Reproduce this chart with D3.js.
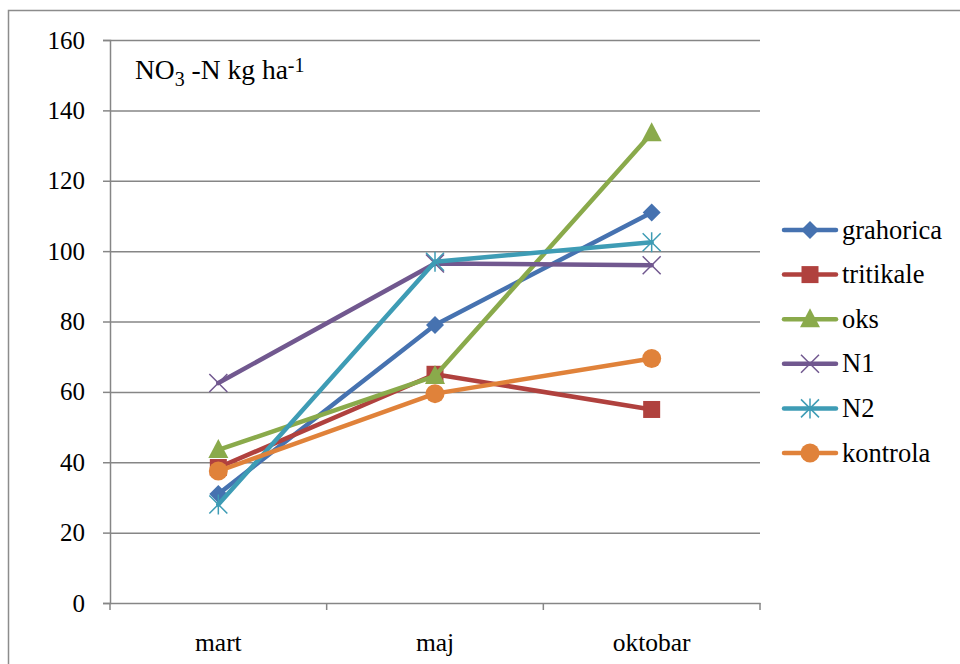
<!DOCTYPE html>
<html>
<head>
	<meta charset="utf-8">
	<title>NO3-N</title>
	<script src="https://cdn.jsdelivr.net/npm/d3@7"></script>
</head>
<body style="margin:0; background:#fff">
	<div id="chart"></div>
	<script>

		// data

		const months = ["mart", "maj", "oktobar"];
		const seriesNames = ["grahorica", "tritikale", "oks", "N1", "N2", "kontrola"];
		const grahorica = [31, 79, 111];
		const tritikale = [38.5, 65, 55];
		const oks = [43.5, 64.5, 133.5];
		const n1 = [62.5, 96.5, 96];
		const n2 = [28, 97, 102.5];
		const kontrola = [37.5, 59.5, 69.5];
		const yTicks = [0, 20, 40, 60, 80, 100, 120, 140, 160];

		const colors = ["#4672B0", "#B0413E", "#8AAA4B", "#71588F", "#3E9CB5", "#E0823A"];
		const markers = ["diamond", "square", "triangle", "x", "asterisk", "circle"];

		const series = seriesNames.map((name, i) => ({
			name,
			values: [grahorica, tritikale, oks, n1, n2, kontrola][i],
			color: colors[i],
			marker: markers[i]
		}));

		const width = 960;
		const height = 664;
		const marginLeft = 110, plotRight = 760, marginTop = 40, plotBottom = 603;
		const serif = "Liberation Serif";

		const svg = d3.select("#chart").append("svg")
			.attr("width", width)
			.attr("height", height);

		// outer frame
		svg.append("rect")
			.attr("x", 8.5).attr("y", 10.5)
			.attr("width", 960).attr("height", 700)
			.attr("fill", "none")
			.attr("stroke", "#8c8c8c")
			.attr("stroke-width", 1.5);

		const x = d3.scaleBand().domain(months).range([marginLeft, plotRight]);
		const y = d3.scaleLinear().domain([0, 160]).range([plotBottom, marginTop]);

		// y axis + grid
		svg.append("g")
			.attr("transform", `translate(${marginLeft},0)`)
			.call(d3.axisLeft(y).tickValues(yTicks).tickSize(7).tickPadding(18))
			.call(g => g.select(".domain").attr("stroke", "#868686").attr("stroke-width", 1.5))
			.call(g => g.selectAll(".tick line").attr("stroke", "#868686").attr("stroke-width", 1.5))
			.call(g => g.selectAll(".tick text")
				.style("font-family", serif)
				.style("font-size", "25px")
				.attr("fill", "#000"))
			.call(g => g.selectAll(".tick").filter(d => d > 0).append("line")
				.attr("x2", plotRight - marginLeft)
				.attr("stroke", "#868686").attr("stroke-width", 1.5));

		// x axis
		svg.append("g")
			.attr("transform", `translate(0,${plotBottom})`)
			.call(d3.axisBottom(x).tickSize(0).tickPadding(30))
			.call(g => g.select(".domain").attr("stroke", "#868686").attr("stroke-width", 1.5))
			.call(g => g.selectAll(".tick text")
				.style("font-family", serif)
				.style("font-size", "25.5px")
				.attr("fill", "#000"));

		// category boundary ticks
		const bounds = months.map(m => x(m)).concat([x(months[months.length - 1]) + x.bandwidth()]);
		svg.append("g").selectAll("line").data(bounds).join("line")
			.attr("x1", d => d).attr("x2", d => d)
			.attr("y1", plotBottom).attr("y2", plotBottom + 7)
			.attr("stroke", "#868686").attr("stroke-width", 1.5);

		const cx = m => x(m) + x.bandwidth() / 2;

		function drawMarker(g, type, color, px, py) {
			const s = 9;
			if (type === "diamond") {
				g.append("path").attr("d", `M${px},${py - s}L${px + s},${py}L${px},${py + s}L${px - s},${py}Z`).attr("fill", color);
			} else if (type === "square") {
				g.append("rect").attr("x", px - 8.5).attr("y", py - 8.5).attr("width", 17).attr("height", 17).attr("fill", color);
			} else if (type === "triangle") {
				g.append("path").attr("d", `M${px},${py - 11}L${px + 10},${py + 8}L${px - 10},${py + 8}Z`).attr("fill", color);
			} else if (type === "x") {
				g.append("path").attr("d", `M${px - 9},${py - 9}L${px + 9},${py + 9}M${px - 9},${py + 9}L${px + 9},${py - 9}`)
					.attr("stroke", color).attr("stroke-width", 1.5);
			} else if (type === "asterisk") {
				g.append("path").attr("d", `M${px - 9},${py - 9}L${px + 9},${py + 9}M${px - 9},${py + 9}L${px + 9},${py - 9}M${px},${py - 10}L${px},${py + 10}`)
					.attr("stroke", color).attr("stroke-width", 1.5);
			} else if (type === "circle") {
				g.append("circle").attr("cx", px).attr("cy", py).attr("r", 9.5).attr("fill", color);
			}
		}

		const line = d3.line()
			.x((d, i) => cx(months[i]))
			.y(d => y(d));

		series.forEach(s => {
			const g = svg.append("g");
			g.append("path")
				.attr("d", line(s.values))
				.attr("fill", "none")
				.attr("stroke", s.color)
				.attr("stroke-width", 4.5)
				.attr("stroke-linejoin", "round")
				.attr("stroke-linecap", "round");
			s.values.forEach((v, i) => drawMarker(g, s.marker, s.color, cx(months[i]), y(v)));
		});

		// title
		const title = svg.append("text")
			.attr("x", 135).attr("y", 79)
			.style("font-family", serif)
			.style("font-size", "27.5px");
		title.append("tspan").text("NO");
		title.append("tspan").text("3").style("font-size", "20px").attr("dy", 7);
		title.append("tspan").text(" -N kg ha").attr("dy", -7);
		title.append("tspan").text("-1").style("font-size", "20px").attr("dy", -7);

		// legend
		const legend = svg.append("g");
		series.forEach((s, i) => {
			const ly = 230 + i * 44.6;
			const g = legend.append("g");
			g.append("line")
				.attr("x1", 784).attr("x2", 836)
				.attr("y1", ly).attr("y2", ly)
				.attr("stroke", s.color).attr("stroke-width", 4.5)
				.attr("stroke-linecap", "round");
			drawMarker(g, s.marker, s.color, 810, ly);
			g.append("text")
				.attr("x", 842).attr("y", ly + 8.5)
				.style("font-family", serif)
				.style("font-size", "26.5px")
				.text(s.name);
		});

	</script>
</body>
</html>
